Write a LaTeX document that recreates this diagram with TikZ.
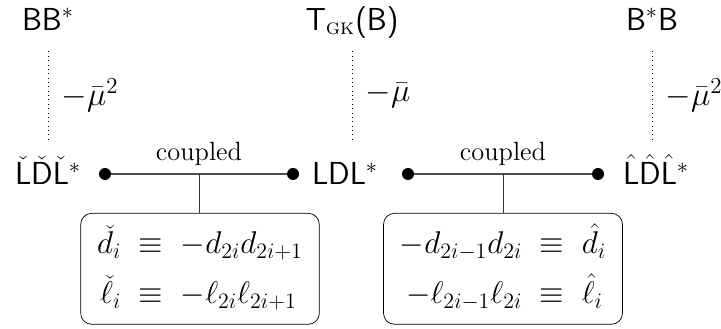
\RequirePackage{fix-cm}
\documentclass[tikz,border=0pt]{standalone}
\usepackage{amsmath}
\usetikzlibrary{positioning}

\begin{document}
\begin{tikzpicture}[x=0.55pt,y=-0.55pt,
  lab/.style={font=\fontsize{17.5}{21}\selectfont\sffamily, inner sep=1pt,
    text height=15pt, text depth=2pt},
  toplab/.style={lab, text height=12.5pt},
  dot/.style={circle, fill, inner sep=0pt, minimum size=6.6pt},
  eqbox/.style={draw, rounded corners=6pt, inner xsep=4pt, inner ysep=3pt,
    font=\fontsize{17.3}{27.5}\selectfont},
  muline/.style={dotted, shorten >=7.5pt, shorten <=8.6pt},
  mulab/.style={right=4pt, font=\fontsize{18}{22}\selectfont},
  cpl/.style={above=1pt, black, font=\fontsize{14.5}{17}\selectfont}]

\useasboundingbox (0,0) rectangle (721,329);

% Matrices du haut
\node[toplab] (bbs) at (48,20.5) {BB$^*$};
\node[toplab] (tgk) at (352,20.5) {T$_{\text{\textsc{gk}}}$(B)};
\node[toplab] (bsb) at (652,20.5) {B$^*$B};

% Factorisations du bas
\node[lab] (lchk) at (48,173) {$\check{\mathsf{L}}\check{\mathsf{D}}\check{\mathsf{L}}^*$};
\node[lab] (ldl) at (345,173) {LDL$^*$};
\node[lab] (lhat) at (656,173) {$\hat{\mathsf{L}}\hat{\mathsf{D}}\hat{\mathsf{L}}^*$};

% Points
\node[dot] (d1) at (105,174) {};
\node[dot] (d2) at (293,174) {};
\node[dot] (d3) at (408,174) {};
\node[dot] (d4) at (598,174) {};

% Decalages
\draw[muline] (bbs.south) -- (bbs.south |- lchk.north)
  node[midway, mulab] {$-\bar{\mu}^2$};
\draw[muline] (tgk.south) -- (tgk.south |- ldl.north)
  node[midway, mulab] {$-\bar{\mu}$};
\draw[muline] (bsb.south) -- (bsb.south |- lhat.north)
  node[midway, mulab] {$-\bar{\mu}^2$};

% Couplages
\draw[black!70, semithick] (d1) -- (d2)
  node[midway, cpl] {coupled} coordinate[midway] (m1);
\draw[black!70, semithick] (d3) -- (d4)
  node[midway, cpl] {coupled} coordinate[midway] (m2);

% Relations
\node[eqbox, anchor=north] (eq1) at (200,213)
  {$\begin{array}{r@{\;\;\equiv\;\;}l}
   \check{d}_i & -d_{2i}d_{2i+1}\\
   \check{\ell}_i & -\ell_{2i}\ell_{2i+1}
   \end{array}$};
\node[eqbox, anchor=north] (eq2) at (503,213)
  {$\begin{array}{r@{\;\;\equiv\;\;}l}
   -d_{2i-1}d_{2i} & \hat{d}_i\\
   -\ell_{2i-1}\ell_{2i} & \hat{\ell}_i
   \end{array}$};

\draw[black!80] (m1) -- (eq1.north -| m1);
\draw[black!80] (m2) -- (eq2.north -| m2);

\end{tikzpicture}
\end{document}
